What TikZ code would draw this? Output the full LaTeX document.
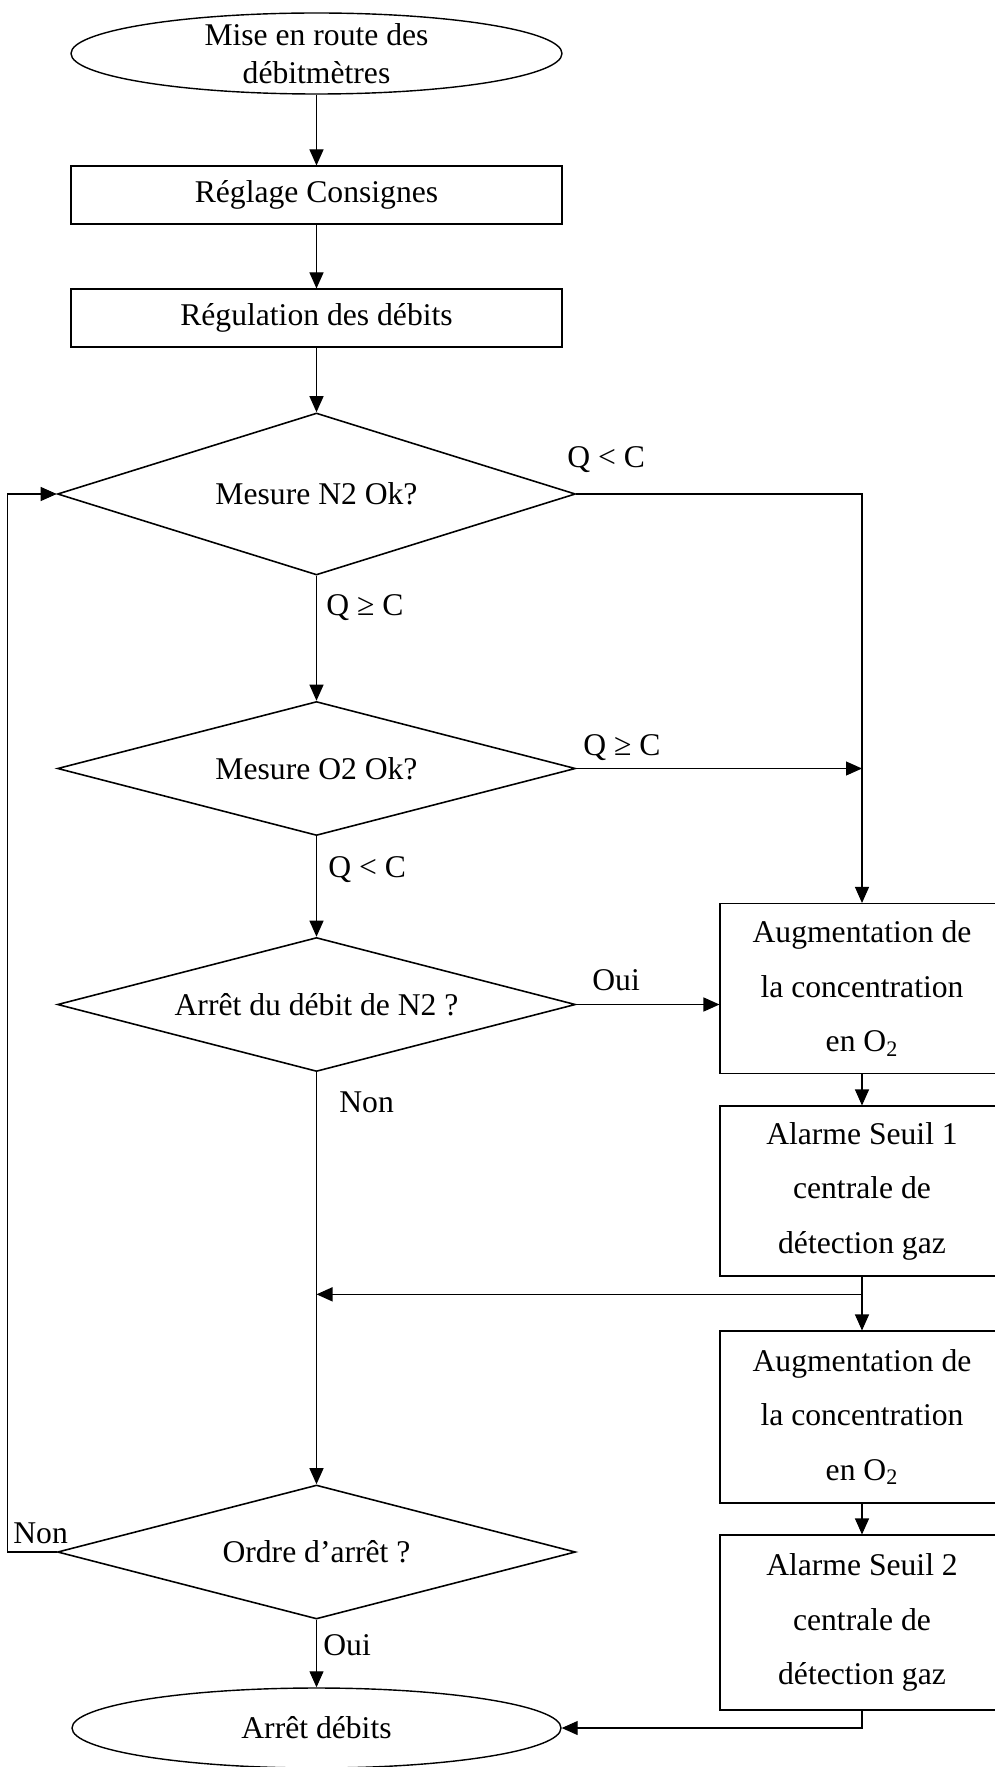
\documentclass[tikz,border=0pt]{standalone}
\usepackage{fontspec}
\setmainfont{Liberation Serif}
\usepackage{tikz}
\usetikzlibrary{arrows.meta,shapes.geometric,calc}

\begin{document}
\begin{tikzpicture}[
  font=\fontsize{18}{21.6}\selectfont,
  term/.style={draw, ellipse, line width=0.8pt, align=center, inner xsep=0pt,
               inner ysep=-2mm, minimum width=9.82cm, minimum height=1.62cm},
  box/.style={draw, line width=0.6pt, align=center, inner sep=0pt,
              minimum width=9.82cm, minimum height=1.16cm},
  test/.style={draw, diamond, line width=0.9pt, inner sep=0pt, aspect=3.8,
               minimum width=10.36cm, minimum height=2.68cm},
  alarm/.style={draw, line width=0.6pt, align=center, inner sep=0pt,
                font=\fontsize{18}{31}\selectfont,
                minimum width=5.68cm, minimum height=3.4cm},
  lbl/.style={inner sep=0pt, anchor=base west},
  flow/.style={-{Triangle[length=3.2mm,width=2.8mm]}, line width=0.6pt}
]
\useasboundingbox (0,0) rectangle (19.9,-35.34);

% colonne principale
\node[term] (start) at (6.33,-1.07) {Mise en route des\\débitmètres};
\node[box] (reglage) at (6.33,-3.90) {Réglage Consignes};
\node[box] (regul) at (6.33,-6.36) {Régulation des débits};
\node[test, minimum height=3.24cm] (mesN2) at (6.33,-9.88) {Mesure N2 Ok?};
\node[test] (mesO2) at (6.33,-15.37) {Mesure O2 Ok?};
\node[test] (arretN2) at (6.33,-20.09) {Arrêt du débit de N2 ?};
\node[test] (ordre) at (6.33,-31.04) {Ordre d’arrêt ?};
\node[term, minimum width=9.78cm, minimum height=1.6cm] (stop) at (6.33,-34.56) {Arrêt débits};

% colonne droite
\node[alarm] (aug1) at (17.24,-19.77) {Augmentation de\\la concentration\\en O\textsubscript{2}};
\node[alarm] (seuil1) at (17.24,-23.82) {Alarme Seuil 1\\centrale de\\détection gaz};
\node[alarm, minimum height=3.44cm] (aug2) at (17.24,-28.34) {Augmentation de\\la concentration\\en O\textsubscript{2}};
\node[alarm, minimum height=3.5cm] (seuil2) at (17.24,-32.45) {Alarme Seuil 2\\centrale de\\détection gaz};

% etiquettes
\node[lbl] (qlc1) at (11.34,-9.34) {Q < C};
\node[lbl] (qgc1) at (6.52,-12.30) {Q ≥ C};
\node[lbl] (qgc2) at (11.66,-15.10) {Q ≥ C};
\node[lbl] (qlc2) at (6.56,-17.54) {Q < C};
\node[lbl] (oui1) at (11.84,-19.80) {Oui};
\node[lbl] (non1) at (6.78,-22.24) {Non};
\node[lbl] (non2) at (0.26,-30.86) {Non};
\node[lbl] (oui2) at (6.46,-33.10) {Oui};

\coordinate (split) at ($(seuil1.south)!0.33!(aug2.north)$);

\draw[flow] (start)--(reglage);
\draw[flow] (reglage)--(regul);
\draw[flow] (regul)--(mesN2);
\draw[flow] (mesN2)--(mesO2);
\draw[flow] (mesO2)--(arretN2);
\draw[flow] (arretN2)--(ordre);
\draw[flow] (ordre)--(stop);
\draw[flow] (mesN2.east) -| (aug1.north);
\draw[flow] (mesO2.east) -- (mesO2.east -| aug1.north);
\draw[flow, line width=0.8pt] (arretN2.east) -- (arretN2.east -| aug1.west);
\draw[flow] (aug1)--(seuil1);
\draw[flow] (seuil1)--(aug2);
\draw[flow, line width=0.8pt] (split) -- (split -| arretN2.south);
\draw[flow] (aug2)--(seuil2);
\draw[flow] (seuil2.south) |- (stop.east);
\draw[flow] (ordre.west) -- ++(-0.98,0) |- (mesN2.west);
\end{tikzpicture}
\end{document}
